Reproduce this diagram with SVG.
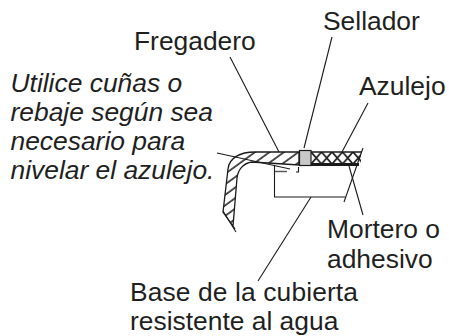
<svg xmlns="http://www.w3.org/2000/svg" width="449" height="336" viewBox="0 0 449 336">
<style>
text{font-family:"Liberation Sans",Arial,sans-serif;font-size:26.400px;fill:#1f1f1f}
.i{font-style:italic}
.l{fill:none;stroke:#1a1a1a;stroke-width:1.100}
</style>
<defs>
<pattern id="h" width="8.500" height="8.500" patternUnits="userSpaceOnUse" patternTransform="rotate(-36)"><rect width="8.500" height="8.500" fill="#fff"/><line x1="0" y1="1" x2="8.500" y2="1" stroke="#1a1a1a" stroke-width="1.500"/></pattern>
<pattern id="x" width="10.500" height="12" patternUnits="userSpaceOnUse" patternTransform="translate(311 152)"><path d="M0 0L10.500 12M10.500 0L0 12" stroke="#1a1a1a" stroke-width="1.800" fill="none"/></pattern>
</defs>
<g id="sink"><path d="M299 152H255C240 152 229 158 228 169L223 212L235 229L233 226L237 178C238 170 243 163 252 162L299 165Z" fill="url(#h)" stroke="#1a1a1a" stroke-width="1.300"/></g>
<g id="tile"><rect x="311" y="152" width="50" height="12" fill="url(#x)"/><path d="M311 152H362" stroke="#1a1a1a" stroke-width="1.400" fill="none"/><path d="M311 164.500H359" stroke="#1a1a1a" stroke-width="2.800" fill="none"/></g>
<g id="sealer"><rect x="299.500" y="150.500" width="11.500" height="15" fill="#c8c8c8" stroke="#1a1a1a" stroke-width="1.200"/></g>
<g id="base"><path class="l" d="M274.500 165V197H345"/><path d="M275 171.500H287" stroke="#555" stroke-width="1.400" fill="none"/><path class="l" d="M298.500 167V172H296"/></g>
<g id="connectors">
<path class="l" d="M217 153L290 169"/>
<path class="l" d="M223 211L236 232"/>
<path class="l" d="M230 57L279 152"/>
<path class="l" d="M332 37L304 148"/>
<path class="l" d="M368 103L342 152"/>
<path class="l" d="M363 148L344 202"/>
<path class="l" d="M349 166L363 215"/>
<path class="l" d="M311 197L258 281"/>
</g>
<g id="labels">
<text x="134" y="50">Fregadero</text>
<text x="323" y="30">Sellador</text>
<text x="359" y="95">Azulejo</text>
<text class="i" x="10.500" y="92">Utilice cuñas o</text>
<text class="i" x="10.500" y="121">rebaje según sea</text>
<text class="i" x="10.500" y="150">necesario para</text>
<text class="i" x="10.500" y="179">nivelar el azulejo.</text>
<text x="327" y="238">Mortero o</text>
<text x="327" y="268">adhesivo</text>
<text x="130" y="301" textLength="228">Base de la cubierta</text>
<text x="130" y="330">resistente al agua</text>
</g>
</svg>
